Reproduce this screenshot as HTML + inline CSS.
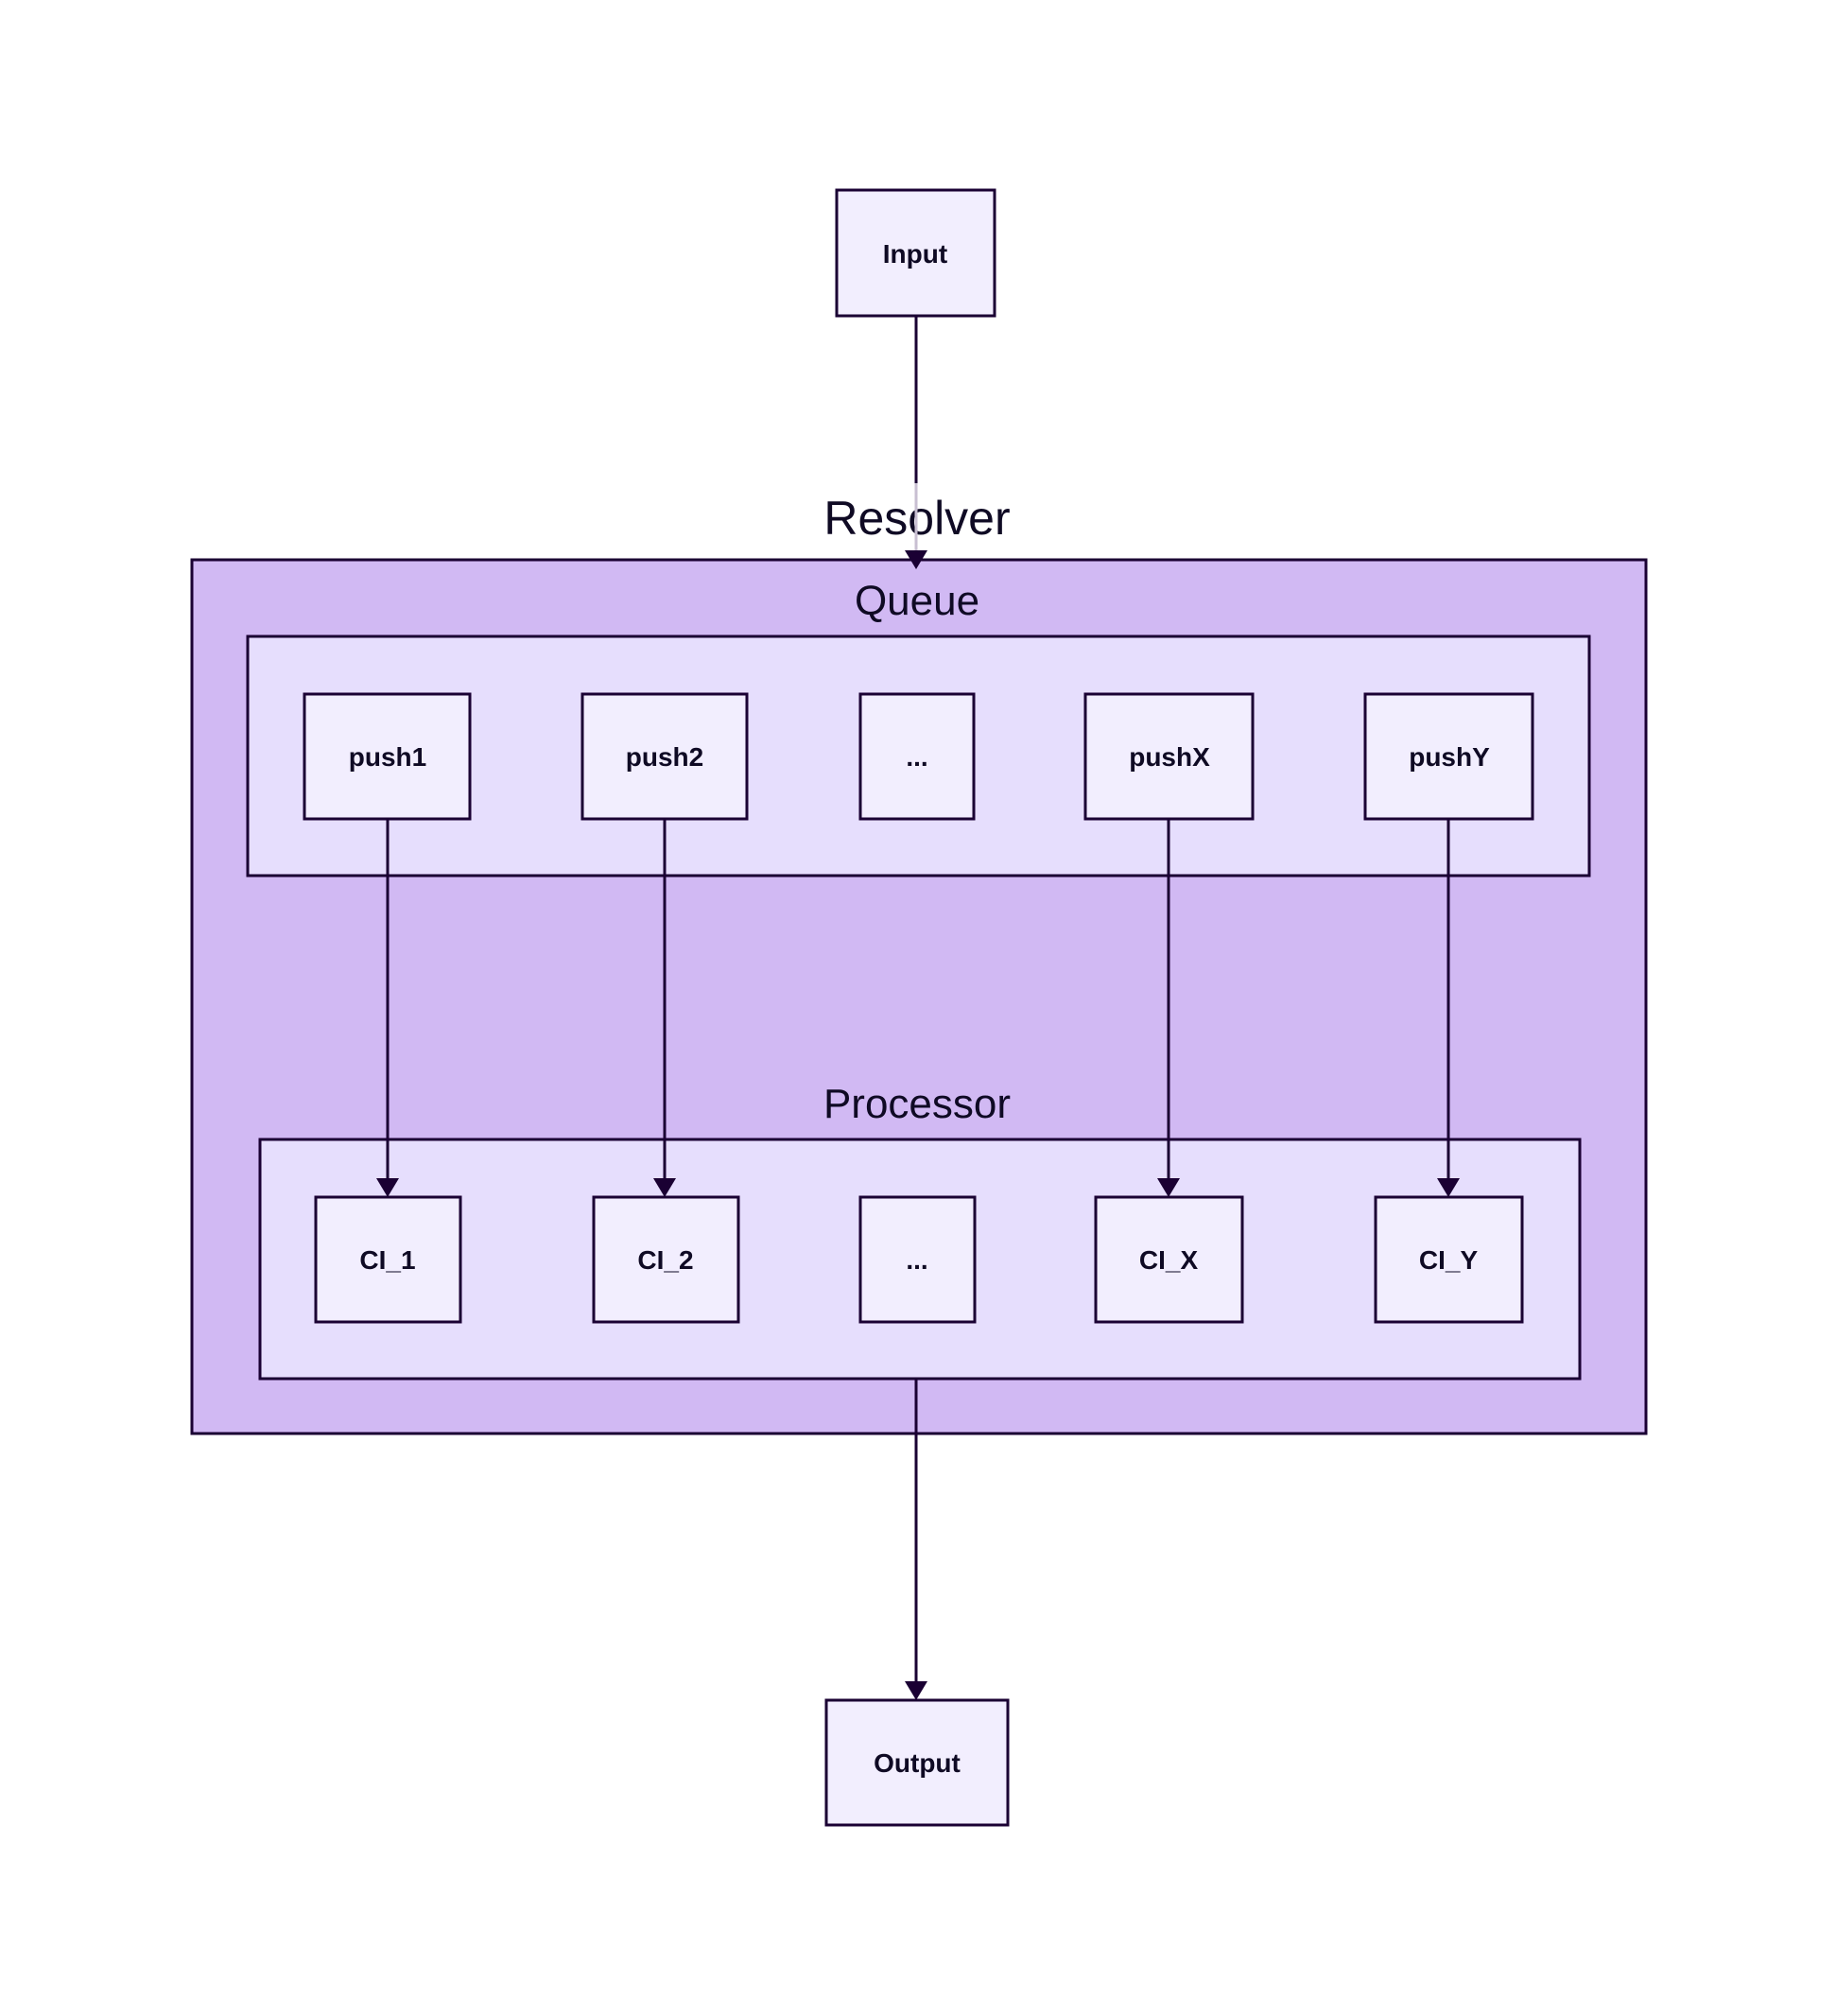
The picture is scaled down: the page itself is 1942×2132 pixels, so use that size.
<!DOCTYPE html>
<html><head><meta charset="utf-8"><style>
html,body{margin:0;padding:0;background:#fff;}
svg{display:block;}
text{font-family:"Liberation Sans",sans-serif;fill:#0f0a24;}
.n{font-weight:bold;font-size:28px;}
</style></head><body>
<svg width="1942" height="2132" viewBox="0 0 1942 2132" xmlns="http://www.w3.org/2000/svg">
<g stroke="#1a0033" stroke-width="3">
<rect x="203" y="592" width="1538" height="924" fill="#d1b9f3"/>
<rect x="262" y="673" width="1419" height="253" fill="#e6defd"/>
<rect x="275" y="1205" width="1396" height="253" fill="#e6defd"/>
</g>
<text x="970" y="565" font-size="50" text-anchor="middle">Resolver</text>
<text x="970" y="650" font-size="44" text-anchor="middle">Queue</text>
<text x="970" y="1182" font-size="44" text-anchor="middle">Processor</text>
<g stroke="#1a0033" stroke-width="3" fill="#f2eefe">
<rect x="885" y="201" width="167" height="133"/>
<rect x="322" y="734" width="175" height="132"/>
<rect x="616" y="734" width="174" height="132"/>
<rect x="910" y="734" width="120" height="132"/>
<rect x="1148" y="734" width="177" height="132"/>
<rect x="1444" y="734" width="177" height="132"/>
<rect x="334" y="1266" width="153" height="132"/>
<rect x="628" y="1266" width="153" height="132"/>
<rect x="910" y="1266" width="121" height="132"/>
<rect x="1159" y="1266" width="155" height="132"/>
<rect x="1455" y="1266" width="155" height="132"/>
<rect x="874" y="1798" width="192" height="132"/>
</g>
<g text-anchor="middle">
<text class="n" x="968" y="278">Input</text>
<text class="n" x="410" y="810">push1</text>
<text class="n" x="703" y="810">push2</text>
<text class="n" x="970" y="810">...</text>
<text class="n" x="1237" y="810">pushX</text>
<text class="n" x="1533" y="810">pushY</text>
<text class="n" x="410" y="1342">CI_1</text>
<text class="n" x="704" y="1342">CI_2</text>
<text class="n" x="970" y="1342">...</text>
<text class="n" x="1236" y="1342">CI_X</text>
<text class="n" x="1532" y="1342">CI_Y</text>
<text class="n" x="970" y="1874">Output</text>
</g>
<g stroke="#1a0033" stroke-width="3" fill="none">
<line x1="969" y1="334" x2="969" y2="511"/>
<line x1="410" y1="866" x2="410" y2="1248"/>
<line x1="703" y1="866" x2="703" y2="1248"/>
<line x1="1236" y1="866" x2="1236" y2="1248"/>
<line x1="1532" y1="866" x2="1532" y2="1248"/>
<line x1="969" y1="1458" x2="969" y2="1780"/>
</g>
<line x1="969" y1="511" x2="969" y2="582" stroke="#c8bfd2" stroke-width="3"/>
<g fill="#1a0033">
<polygon points="957,582 981,582 969,602"/>
<polygon points="398,1246 422,1246 410,1266"/>
<polygon points="691,1246 715,1246 703,1266"/>
<polygon points="1224,1246 1248,1246 1236,1266"/>
<polygon points="1520,1246 1544,1246 1532,1266"/>
<polygon points="957,1778 981,1778 969,1798"/>
</g>
</svg>
</body></html>
